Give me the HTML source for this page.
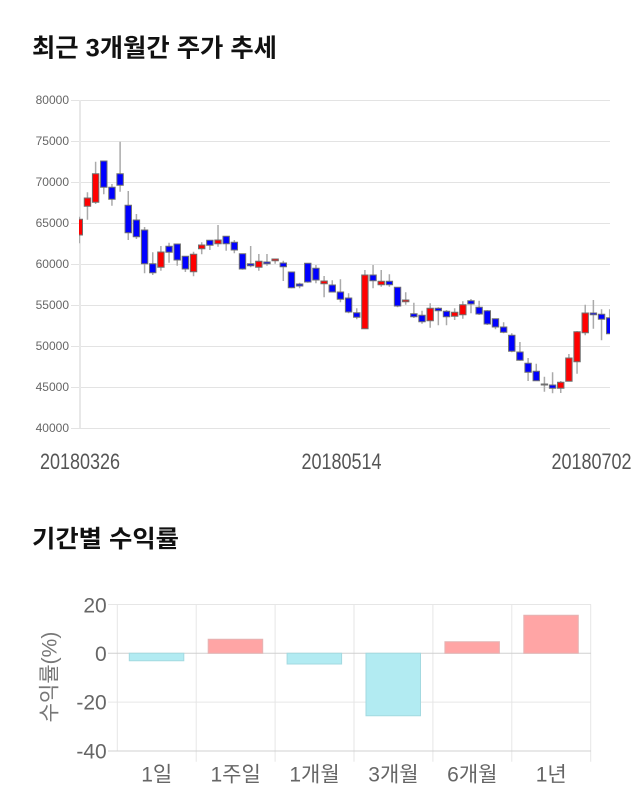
<!DOCTYPE html>
<html>
<head>
<meta charset="utf-8">
<style>
html,body{margin:0;padding:0;background:#fff;}
svg{display:block;}
.t{font-family:"Liberation Sans","Noto Sans CJK KR",sans-serif;}
</style>
</head>
<body>
<svg width="640" height="810" viewBox="0 0 640 810" xmlns="http://www.w3.org/2000/svg">
<rect width="640" height="810" fill="#fff"/>
<text class="t" x="32" y="56.5" font-size="25" font-weight="bold" fill="#111" textLength="245" lengthAdjust="spacingAndGlyphs">최근 3개월간 주가 추세</text>
<path d="M71 100.5H610M71 141.5H610M71 182.5H610M71 223.5H610M71 264.5H610M71 305.5H610M71 346.5H610M71 387.5H610M71 428.5H610" stroke="#e3e3e3" stroke-width="1" fill="none"/>
<path d="M80 100V428" stroke="#e8e8e8" stroke-width="2"/>
<g class="t" font-size="12" fill="#666" text-anchor="end">
<text x="69" y="104">80000</text>
<text x="69" y="145">75000</text>
<text x="69" y="186">70000</text>
<text x="69" y="227">65000</text>
<text x="69" y="268">60000</text>
<text x="69" y="309">55000</text>
<text x="69" y="350">50000</text>
<text x="69" y="391">45000</text>
<text x="69" y="432">40000</text>
</g>
<g class="t" font-size="22" fill="#555" text-anchor="middle">
<text x="80" y="469" textLength="80" lengthAdjust="spacingAndGlyphs">20180326</text>
<text x="341.5" y="469" textLength="80" lengthAdjust="spacingAndGlyphs">20180514</text>
<text x="591.5" y="469" textLength="80" lengthAdjust="spacingAndGlyphs">20180702</text>
</g>
<defs><clipPath id="pc"><rect x="79" y="90" width="531" height="345"/></clipPath></defs>
<g clip-path="url(#pc)">
<path stroke="#aaa" stroke-width="1.5" fill="none" d="M79.3 216.7V243.3M87.46 192.3V219.7M95.62 161.7V204M103.78 161V194.3M111.94 184V205.7M120.1 141.7V191.7M128.26 191V240M136.42 214V239M144.58 227V273.3M152.74 252.3V275M160.9 246V270.7M169.06 242.7V262.7M177.22 244V265.7M185.38 256.3V272M193.54 251.7V276.3M201.7 242.3V254.3M209.86 240.3V250M218.02 225V246.7M226.18 236.3V250.7M234.34 240V253.3M242.5 253.7V269.7M250.66 246V267.3M258.82 254V270.7M266.98 254V265.7M275.14 259V263.7M283.3 260.7V281M291.46 272V288.3M299.62 282.7V288.3M307.78 263.3V282.7M315.94 265V283.3M324.1 276V297.3M332.26 280.3V292M340.42 279.3V302.3M348.58 293.3V313.3M356.74 308.3V319.3M364.9 270V328.7M373.06 265V288.3M381.22 270V286.7M389.38 274.3V286.7M397.54 287.3V307.3M405.7 292.3V304.7M413.86 302.7V318M422.02 310.7V323.7M430.18 303.3V327.7M438.34 307.3V325.3M446.5 310V325.3M454.66 308.3V320M462.82 301.3V318.7M470.98 299V313.3M479.14 300.7V315M487.3 310V325M495.46 318.7V329.3M503.62 322.3V333.3M511.78 333.3V352.3M519.94 342V360.7M528.1 358V381M536.26 363.7V381M544.42 376.7V391.7M552.58 372.3V393.3M560.74 381V393M568.9 354V381.3M577.06 331V373.7M585.22 304.7V335.3M593.38 300V328.7M601.54 309.3V340.3M609.7 309.3V333.7"/>
<path fill="#ff0000" stroke="#707070" stroke-width="1" d="M76.1 219.3h6.4v15.7h-6.4zM84.26 198h6.4v8.3h-6.4zM92.42 173.7h6.4v28.6h-6.4zM157.7 252h6.4v15.3h-6.4zM190.34 254.3h6.4v17.4h-6.4zM198.5 245h6.4v3.7h-6.4zM214.82 240h6.4v3.7h-6.4zM255.62 261.3h6.4v6h-6.4zM271.94 259h6.4v1.7h-6.4zM320.9 281h6.4v2.7h-6.4zM361.7 275h6.4v53.7h-6.4zM378.02 281.3h6.4v3.4h-6.4zM402.5 300h6.4v1.7h-6.4zM426.98 308.3h6.4v12.4h-6.4zM451.46 312.3h6.4v4h-6.4zM459.62 304.7h6.4v10h-6.4zM557.54 382.3h6.4v6h-6.4zM565.7 358h6.4v23.3h-6.4zM573.86 331.7h6.4v30h-6.4zM582.02 313h6.4v19.7h-6.4z"/>
<path fill="#0000ff" stroke="#707070" stroke-width="1" d="M100.58 161h6.4v26.3h-6.4zM108.74 187.3h6.4v12h-6.4zM116.9 173.7h6.4v11.6h-6.4zM125.06 205.3h6.4v27.4h-6.4zM133.22 220h6.4v16.7h-6.4zM141.38 230h6.4v33.7h-6.4zM149.54 263.7h6.4v9h-6.4zM165.86 246.3h6.4v6h-6.4zM174.02 244h6.4v16h-6.4zM182.18 256.3h6.4v12.7h-6.4zM206.66 240.3h6.4v5h-6.4zM222.98 236.3h6.4v7.4h-6.4zM231.14 242.3h6.4v7.7h-6.4zM239.3 253.7h6.4v15.3h-6.4zM247.46 263.7h6.4v2h-6.4zM263.78 262h6.4v1.7h-6.4zM280.1 263h6.4v3.7h-6.4zM288.26 272h6.4v15.7h-6.4zM296.42 284h6.4v2h-6.4zM304.58 263.3h6.4v18.7h-6.4zM312.74 268.3h6.4v11.7h-6.4zM329.06 285h6.4v7h-6.4zM337.22 292h6.4v7.3h-6.4zM345.38 298h6.4v14h-6.4zM353.54 312.7h6.4v4.6h-6.4zM369.86 275h6.4v5.7h-6.4zM386.18 281.3h6.4v3.4h-6.4zM394.34 287.3h6.4v18.7h-6.4zM410.66 313.7h6.4v3h-6.4zM418.82 315.3h6.4v6.4h-6.4zM435.14 308.3h6.4v2.4h-6.4zM443.3 311.3h6.4v5.4h-6.4zM467.78 300.7h6.4v3.3h-6.4zM475.94 307.3h6.4v6.7h-6.4zM484.1 310.7h6.4v13.3h-6.4zM492.26 318.7h6.4v8.3h-6.4zM500.42 327h6.4v5.3h-6.4zM508.58 335.3h6.4v16h-6.4zM516.74 352h6.4v8.3h-6.4zM524.9 363.3h6.4v9h-6.4zM533.06 371.3h6.4v9.4h-6.4zM541.22 384h6.4v1h-6.4zM549.38 385h6.4v3.3h-6.4zM590.18 313h6.4v1.7h-6.4zM598.34 314.3h6.4v5h-6.4zM606.5 317.7h6.4v16h-6.4z"/>
</g>
<text class="t" x="32" y="547" font-size="24" font-weight="bold" fill="#111" textLength="147" lengthAdjust="spacingAndGlyphs">기간별 수익률</text>
<path d="M108 604.5H591M108 702.1H591M196.2 604.5V761.7M275.1 604.5V761.7M354 604.5V761.7M432.9 604.5V761.7M511.8 604.5V761.7M590.7 604.5V761.7M117.3 604.5V751" stroke="#e6e6e6" stroke-width="1" fill="none"/>
<path d="M108 751H591M108 653.3H591" stroke="#d0d0d0" stroke-width="1" fill="none"/>
<path fill="#b2ebf2" stroke="#a3d9e0" stroke-width="1" d="M129.3 653.3h54.5v7.4h-54.5zM287.1 653.3h54.5v10.7h-54.5zM366 653.3h54.5v62.4h-54.5z"/>
<path fill="#ffa5a5" stroke="#e4b4b4" stroke-width="1" d="M208.2 639.3h54.5v14h-54.5zM444.9 641.7h54.5v11.6h-54.5zM523.8 615.3h54.5v38h-54.5z"/>
<g class="t" font-size="21" fill="#666" text-anchor="end">
<text x="106.7" y="612.5">20</text>
<text x="106.7" y="660.8">0</text>
<text x="106.7" y="709.6">-20</text>
<text x="106.7" y="758.5">-40</text>
</g>
<text class="t" font-size="21" fill="#777" text-anchor="middle" transform="translate(56.5,677) rotate(-90)">수익률(%)</text>
<g class="t" font-size="21" fill="#666" text-anchor="middle">
<text x="156.75" y="781.5">1일</text>
<text x="235.65" y="781.5">1주일</text>
<text x="314.55" y="781.5">1개월</text>
<text x="393.45" y="781.5">3개월</text>
<text x="472.35" y="781.5">6개월</text>
<text x="551.25" y="781.5">1년</text>
</g>
</svg>
</body>
</html>
